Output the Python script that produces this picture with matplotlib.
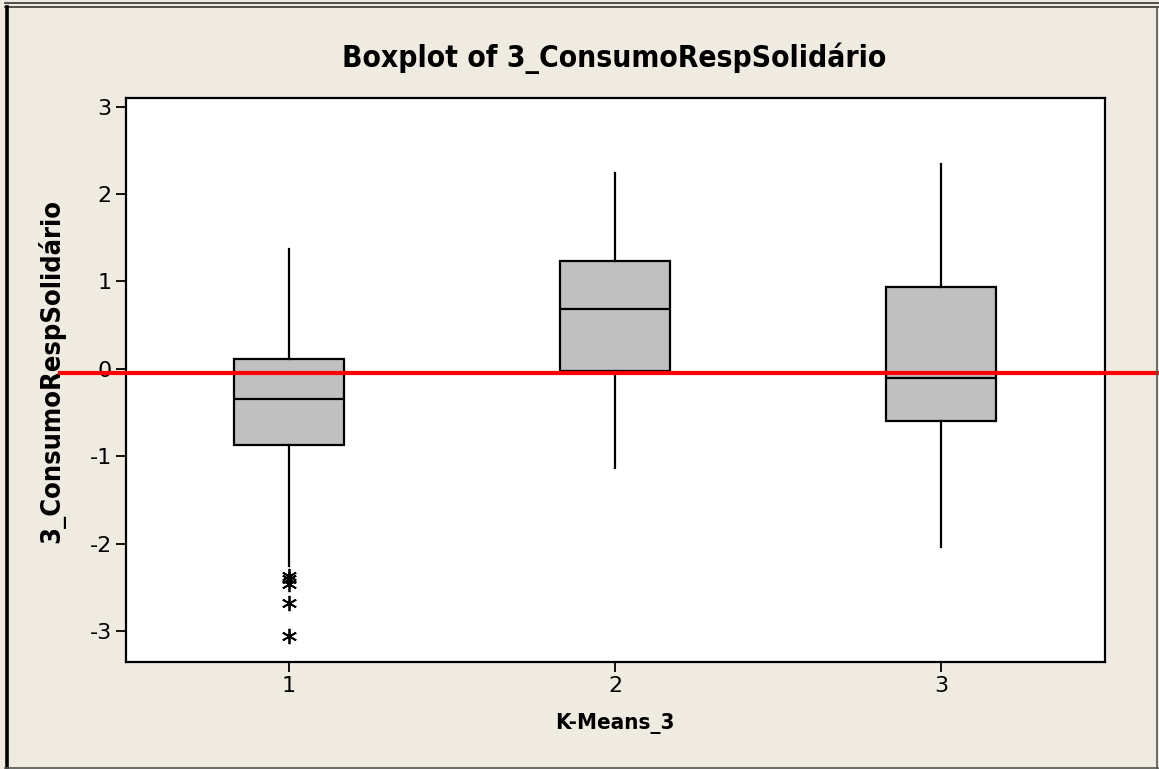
import matplotlib
matplotlib.use("Agg")
import matplotlib.pyplot as plt
from matplotlib.lines import Line2D
from matplotlib.transforms import blended_transform_factory

# Summary statistics per K-Means cluster
categories = ["1", "2", "3"]
q1_vals = [-0.87, -0.03, -0.595]
median_vals = [-0.35, 0.684, -0.10]
q3_vals = [0.115, 1.237, 0.939]
whisker_low = [-2.26, -1.13, -2.04]
whisker_high = [1.37, 2.24, 2.347]
outliers = [[-2.37, -2.41, -2.46, -2.68, -3.06], [], []]
reference_level = -0.05

y_ticks = [-3, -2, -1, 0, 1, 2, 3]

BG = "#EFEBE1"
BOX_FILL = "#C0C0C0"

fig = plt.figure(figsize=(11.59, 7.69), dpi=100, facecolor=BG)
ax = fig.add_axes([0.1083, 0.1391, 0.8447, 0.7341])
ax.set_facecolor("white")

stats = []
for i, name in enumerate(categories):
    stats.append(dict(label=name, q1=q1_vals[i], med=median_vals[i], q3=q3_vals[i],
                      whislo=whisker_low[i], whishi=whisker_high[i],
                      fliers=outliers[i]))

positions = list(range(1, len(categories) + 1))
ax.bxp(stats, positions=positions, widths=0.337, patch_artist=True, showcaps=False,
       boxprops=dict(facecolor=BOX_FILL, edgecolor="black", linewidth=1.6),
       medianprops=dict(color="black", linewidth=1.6),
       whiskerprops=dict(color="black", linewidth=1.6),
       flierprops=dict(marker=(6, 2, 0), markersize=11, markeredgecolor="black",
                       markerfacecolor="black", markeredgewidth=1.3, linestyle="none"))

ax.set_xlim(0.5, 3.5)
ax.set_ylim(-3.355, 3.105)
ax.set_yticks(y_ticks)
ax.set_yticklabels([str(t) for t in y_ticks])
ax.set_xticks(positions)
ax.set_xticklabels(categories)

ax.tick_params(direction="out", length=7, width=1.3, labelsize=16, pad=3, color="black")
for sp in ax.spines.values():
    sp.set_linewidth(1.6)
    sp.set_color("black")

# Reference line across the plot, running past the axes
trans = blended_transform_factory(fig.transFigure, ax.transData)
ax.add_line(Line2D([0.052, 1.0], [reference_level, reference_level], transform=trans,
                   color="#FF0000", linewidth=3, clip_on=False, zorder=5))

fig.text(0.5302, 1 - 58 / 769, "Boxplot of 3_ConsumoRespSolidário", fontsize=21.5,
         fontweight="bold", fontstretch="condensed", ha="center", va="center")
ax.set_xlabel("K-Means_3", fontsize=16, fontweight="bold", fontstretch="condensed",
              labelpad=12)
ax.set_ylabel("3_ConsumoRespSolidário", fontsize=19.5, fontweight="bold",
              fontstretch="condensed")
ax.yaxis.set_label_coords(-0.061, 0.516)

# Window frame
W, H = 1159, 769
def fx(p):
    return p / W
def fy(p):
    return 1 - p / H
fig.add_artist(Line2D([fx(5), fx(1159)], [fy(3.3), fy(3.3)], color="#333333", linewidth=1.2))
fig.add_artist(Line2D([fx(5), fx(1159)], [fy(7.3), fy(7.3)], color="#333333", linewidth=1.2))
fig.add_artist(Line2D([fx(6.5), fx(6.5)], [fy(7), fy(769)], color="black", linewidth=2.6))
fig.add_artist(Line2D([fx(1157), fx(1157)], [fy(7), fy(769)], color="#555555", linewidth=1.2))
fig.add_artist(Line2D([fx(5), fx(1159)], [fy(768), fy(768)], color="#555555", linewidth=1.2))

fig.savefig("out.png", dpi=100, facecolor=BG)
